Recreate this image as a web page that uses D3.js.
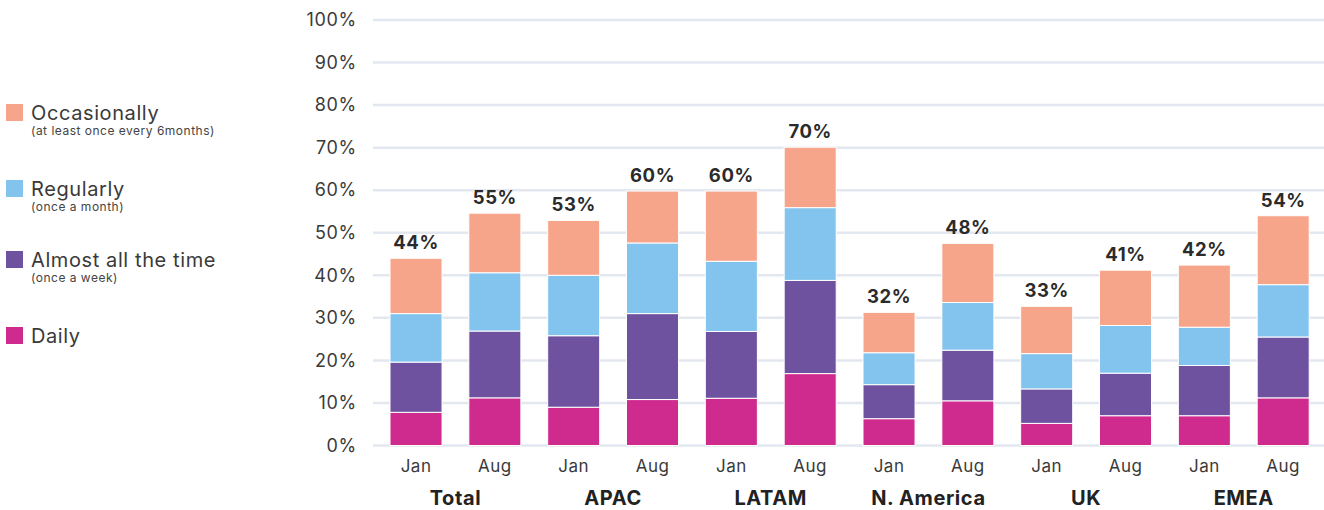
<!DOCTYPE html>
<html>
<head>
<meta charset="utf-8">
<script src="https://cdn.jsdelivr.net/npm/d3@7/dist/d3.min.js"></script>
<style>
  html, body { margin: 0; padding: 0; background: #fff; }
  svg { display: block; font-family: Inter, "Noto Sans", sans-serif; }
</style>
</head>
<body>
<svg id="chart" width="1324" height="510"></svg>
<script>
// ---- data ----
const regions = ["Total", "APAC", "LATAM", "N. America", "UK", "EMEA"];
const periods = ["Jan", "Aug"];
const daily       = [7.8, 11.2, 9.0, 10.8, 11.1, 16.9, 6.3, 10.5, 5.2, 7.0, 7.0, 11.2];
const almostAll   = [11.8, 15.7, 16.8, 20.2, 15.7, 21.9, 8.0, 11.9, 8.1, 10.0, 11.8, 14.3];
const regularly   = [11.4, 13.7, 14.2, 16.6, 16.5, 17.1, 7.5, 11.2, 8.3, 11.2, 9.0, 12.3];
const occasionally= [13.0, 14.0, 12.9, 12.2, 16.5, 14.2, 9.5, 13.9, 11.1, 13.0, 14.6, 16.2];
const totalLabels = ["44%", "55%", "53%", "60%", "60%", "70%", "32%", "48%", "33%", "41%", "42%", "54%"];
const yTicks = [0, 10, 20, 30, 40, 50, 60, 70, 80, 90, 100];
const seriesNames = ["Occasionally", "Regularly", "Almost all the time", "Daily"];
const seriesNotes = ["(at least once every 6months)", "(once a month)", "(once a week)", ""];
const colors = { daily: "#CF2A8E", almostAll: "#6E52A0", regularly: "#83C4EE", occasionally: "#F7A58A" };

// ---- build ----
const keys = ["daily", "almostAll", "regularly", "occasionally"];
const seriesData = { daily, almostAll, regularly, occasionally };
const bars = [];
regions.forEach((r, i) => periods.forEach((p, j) => {
  const idx = i * periods.length + j;
  const row = { id: r + "|" + p, region: r, period: p, label: totalLabels[idx] };
  keys.forEach(k => row[k] = seriesData[k][idx]);
  bars.push(row);
}));

const svg = d3.select("#chart");
const x = d3.scaleBand().domain(bars.map(d => d.id)).range([376.6, 1322.6]).paddingInner(0.34).paddingOuter(0.17);
const y = d3.scaleLinear().domain([0, 100]).range([445.5, 20]);

// gridlines
svg.append("g").selectAll("line").data(yTicks).join("line")
  .attr("x1", 373).attr("x2", 1324)
  .attr("y1", d => y(d)).attr("y2", d => y(d))
  .attr("stroke", "#E3E7EF").attr("stroke-width", 2.5);

// y axis labels
const yAxis = d3.axisLeft(y).tickValues(yTicks).tickFormat(d => d + "%").tickSize(0).tickPadding(0);
const yg = svg.append("g").attr("transform", "translate(357,0)").call(yAxis);
yg.select(".domain").remove();
yg.selectAll("text").attr("font-size", 18).attr("fill", "#3a3a3a").attr("letter-spacing", "0.7px")
  .attr("font-family", "Inter, sans-serif");

// stacked bars
const stack = d3.stack().keys(keys)(bars);
svg.append("g").selectAll("g").data(stack).join("g")
  .attr("fill", d => colors[d.key])
  .selectAll("rect").data(d => d).join("rect")
  .attr("x", d => x(d.data.id))
  .attr("width", x.bandwidth())
  .attr("y", d => y(d[1]))
  .attr("height", d => y(d[0]) - y(d[1]))
  .attr("stroke", "#fff").attr("stroke-width", 1);

// total labels
svg.append("g").selectAll("text").data(bars).join("text")
  .attr("x", d => x(d.id) + x.bandwidth() / 2)
  .attr("y", d => y(keys.reduce((s, k) => s + d[k], 0)) - 9)
  .attr("text-anchor", "middle")
  .attr("font-size", 18.5).attr("font-weight", 700).attr("fill", "#2b2b2b").attr("letter-spacing", "0.6px")
  .text(d => d.label);

// x axis period labels
const xAxis = d3.axisBottom(x).tickFormat(id => id.split("|")[1]).tickSize(0).tickPadding(0);
const xg = svg.append("g").attr("transform", "translate(0,472)").call(xAxis);
xg.select(".domain").remove();
xg.selectAll("text").attr("font-size", 17).attr("fill", "#3a3a3a").attr("dy", 0).attr("letter-spacing", "0.5px")
  .attr("font-family", "Inter, sans-serif");

// region labels
svg.append("g").selectAll("text").data(regions).join("text")
  .attr("x", r => {
    const a = x(r + "|" + periods[0]), b = x(r + "|" + periods[periods.length - 1]) + x.bandwidth();
    return (a + b) / 2;
  })
  .attr("y", 505)
  .attr("text-anchor", "middle")
  .attr("font-size", 20).attr("font-weight", 700).attr("fill", "#222").attr("letter-spacing", "0.6px")
  .text(r => r);

// legend
const legendKeys = ["occasionally", "regularly", "almostAll", "daily"];
const legendY = [112, 188, 259, 335];
const lg = svg.append("g").selectAll("g").data(legendKeys).join("g")
  .attr("transform", (d, i) => `translate(6,${legendY[i]})`);
lg.append("rect").attr("x", 0).attr("y", -8).attr("width", 17).attr("height", 17).attr("fill", d => colors[d]);
lg.append("text").attr("x", 25).attr("y", 8).attr("font-size", 20).attr("fill", "#3a3a3a").attr("letter-spacing", "0.6px")
  .text((d, i) => seriesNames[i]);
lg.append("text").attr("x", 25).attr("y", 23).attr("font-size", 12).attr("fill", "#444").attr("letter-spacing", "0.5px")
  .text((d, i) => seriesNotes[i]);
</script>
</body>
</html>
